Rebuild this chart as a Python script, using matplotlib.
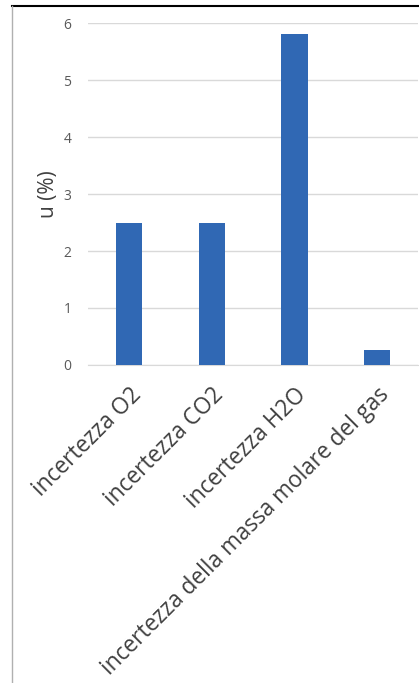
import matplotlib.pyplot as plt
from matplotlib.lines import Line2D

categories = ['incertezza O2', 'incertezza CO2', 'incertezza H2O',
              'incertezza della massa molare del gas']
values = [2.5, 2.5, 5.8, 0.27]

plt.rcParams['font.family'] = ['Open Sans', 'DejaVu Sans']

fig = plt.figure(figsize=(4.19, 6.83), dpi=100)
ax = fig.add_axes([0.21, 0.4656, 0.788, 0.5007])

x = range(len(categories))
ax.bar(x, values, width=0.32, color='#3068b4', zorder=3)

ax.set_xlim(-0.5, len(categories) - 0.5)
ax.set_ylim(0, 6)
ax.set_yticks(range(0, 7))
ax.grid(axis='y', color='#d9d9d9', linewidth=1, zorder=0)
for s in ['top', 'right', 'left']:
    ax.spines[s].set_visible(False)
ax.spines['bottom'].set_color('#d9d9d9')
ax.tick_params(axis='both', length=0, colors='#595959', labelsize=10)
ax.tick_params(axis='y', pad=12)
ax.set_xticks(list(x))
ax.set_xticklabels(categories, rotation=45, ha='right', rotation_mode='anchor',
                   fontsize=16.3, color='#404040')
ax.tick_params(axis='x', pad=13)
ax.set_ylabel('u (%)', fontsize=15, color='#404040', labelpad=3)

# frame lines of the screenshot
fig.add_artist(Line2D([12 / 419, 1], [1 - 6 / 683, 1 - 6 / 683], color='black', linewidth=1.5))
fig.add_artist(Line2D([12 / 419, 12 / 419], [0, 1 - 6 / 683], color='#b0b0b0', linewidth=1))

plt.savefig('out.png', dpi=100)
